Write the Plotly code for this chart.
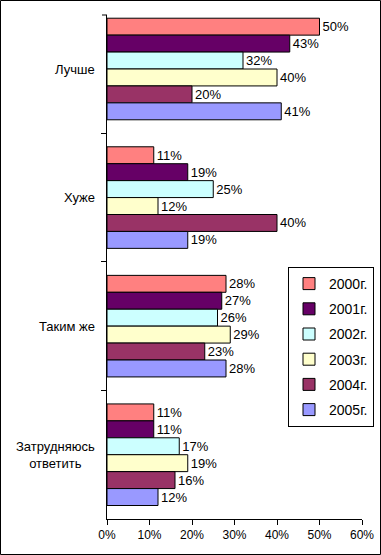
import plotly.graph_objects as go

categories = ["Лучше", "Хуже", "Таким же", "Затрудняюсь<br>ответить"]
series_names = ["2000г.", "2001г.", "2002г.", "2003г.", "2004г.", "2005г."]
values = {
    "2000г.": [50, 11, 28, 11],
    "2001г.": [43, 19, 27, 11],
    "2002г.": [32, 25, 26, 17],
    "2003г.": [40, 12, 29, 19],
    "2004г.": [20, 40, 23, 16],
    "2005г.": [41, 19, 28, 12],
}
colors = ["#FF8080", "#660066", "#CCFFFF", "#FFFFCC", "#993366", "#9999FF"]
x_ticks = [0, 10, 20, 30, 40, 50, 60]
x_tick_labels = ["0%", "10%", "20%", "30%", "40%", "50%", "60%"]

FONT = "Liberation Sans, Arial, sans-serif"
L, R, T, B = 107, 19, 15, 36
PW, PH = 381 - L - R, 555 - T - B

fig = go.Figure()
for name, col in zip(series_names, colors):
    vals = values[name]
    fig.add_trace(go.Bar(
        y=categories, x=vals, name=name, orientation="h",
        legendgroup=name,
        marker=dict(color=col, line=dict(color="black", width=1)),
        text=[f"{v}%" for v in vals], textposition="outside",
        textfont=dict(family=FONT, size=13, color="black"),
        cliponaxis=False,
    ))

# Category labels (centered multi-line, as in the original)
for cat in categories:
    fig.add_annotation(
        x=(97 - L) / PW, xref="paper", xanchor="right",
        y=cat, yref="y", yanchor="middle",
        text=cat, showarrow=False, align="center",
        font=dict(family=FONT, size=13, color="black"),
    )

fig.update_layout(
    width=381, height=555,
    margin=dict(l=L, r=R, t=T, b=B, autoexpand=False),
    paper_bgcolor="white", plot_bgcolor="white",
    barmode="group", bargap=0.21, bargroupgap=0,
    font=dict(family=FONT, size=13, color="black"),
    showlegend=True,
    legend=dict(
        x=(374 - L) / PW, xanchor="right", y=(519 - 267) / PH, yanchor="top",
        xref="paper", yref="paper",
        bordercolor="black", borderwidth=1, bgcolor="white",
        font=dict(family=FONT, size=14, color="black"),
        tracegroupgap=4, itemwidth=30,
    ),
    xaxis=dict(
        range=[0, 60], tickvals=x_ticks, ticktext=x_tick_labels,
        showgrid=False, zeroline=False, showline=True, linecolor="black", linewidth=1,
        ticks="outside", ticklen=5, tickcolor="black", automargin=False,
        tickfont=dict(family=FONT, size=12, color="black"),
    ),
    yaxis=dict(
        type="category", range=[3.5, -0.42],
        showgrid=False, zeroline=False, showline=True, linecolor="black", linewidth=1,
        ticks="outside", ticklen=5, tickcolor="black", tickson="boundaries",
        automargin=False, showticklabels=False,
    ),
)
# Axis end tick at the top of the category axis
fig.add_shape(type="line", xref="paper", yref="paper",
              x0=-5 / PW, x1=0, y0=1, y1=1,
              line=dict(color="black", width=1))
# Outer border of the whole chart
fig.add_shape(type="rect", xref="paper", yref="paper",
              x0=(0.5 - L) / PW, x1=(380.5 - L) / PW,
              y0=(T + PH - 554.5) / PH, y1=(T + PH - 0.5) / PH,
              line=dict(color="black", width=1), layer="above")

fig.write_html("out.html",
               config={"displayModeBar": False},
               post_script="document.body.style.margin='0';document.body.style.overflow='hidden';")
